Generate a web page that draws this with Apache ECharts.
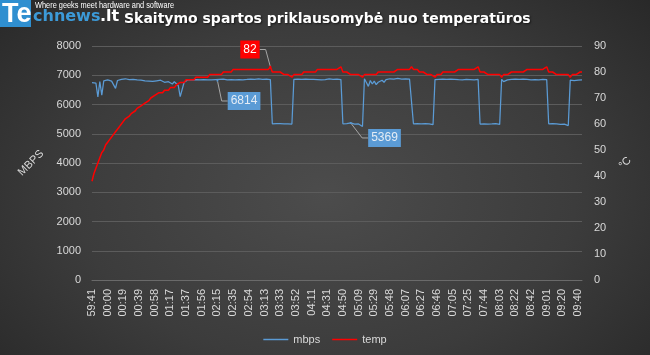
<!DOCTYPE html>
<html>
<head>
<meta charset="utf-8">
<script src="https://cdn.jsdelivr.net/npm/echarts@6/dist/echarts.min.js"></script>
<style>
html,body{margin:0;padding:0;width:650px;height:355px;overflow:hidden;
background:radial-gradient(ellipse 70% 85% at 50% 55%, #4c4c4c 0%, #3c3c3c 55%, #272727 100%);}
#c{width:650px;height:355px;}
</style>
</head>
<body>
<div id="c"></div>
<script>
// x-axis tick labels (one every pointsPerTick samples)
const tickLabels = ['59:41','00:00','00:19','00:39','00:58','01:17','01:37','01:56','02:15','02:35',
  '02:54','03:13','03:33','03:52','04:11','04:31','04:50','05:09','05:29','05:48',
  '06:07','06:27','06:46','07:05','07:25','07:44','08:03','08:22','08:42','09:01',
  '09:20','09:40'];
const pointsPerTick = 8;

// read speed, MB/s
const mbps = [
  6745,6800,6730,6260,6780,6320,6810,6760,6840,6790,
  6800,6830,6550,6820,6790,6860,6810,6880,6830,6850,
  6820,6860,6800,6840,6790,6830,6870,6810,6840,6800,
  6830,6790,6850,6810,6770,6830,6800,6760,6820,6780,
  6740,6700,6780,6720,6650,6270,6300,6760,6820,
  6850,6870,6840,6860,6850,6880,6840,6860,6850,6870,6845,
  6860,6840,6870,6850,6814,6860,6845,6870,6850,6840,
  6865,6850,6875,6840,6860,6850,6870,6845,6860,6855,
  6840,6870,6850,6860,6845,6875,6850,6860,6840,6865,6855,6850,
  5340,5330,5350,5335,5345,5330,5340,5350,5335,5345,5330,
  6860,6840,6870,6850,6860,6845,6870,6850,6860,6840,6855,6870,6850,6860,6845,6865,6850,6860,6875,6845,6860,6850,6870,6855,6850,
  5340,5330,5345,5335,5369,5340,5330,5345,5335,5330,5250,
  6880,6750,6620,6820,6700,6800,6680,6760,6720,6830,6760,6850,
  6860,6880,6850,6870,6845,6890,6860,6870,6850,6880,6860,6870,6855,
  5340,5330,5345,5335,5340,5330,5350,5335,5340,5330,5310,
  6850,6870,6860,6845,6870,6855,6860,6840,6870,6850,6860,6875,6850,6860,6845,6870,6855,6860,6850,6870,6845,6860,6855,
  5330,5340,5335,5345,5330,5340,5335,5330,5345,5335,5320,
  6860,6780,6720,6840,6800,6860,6840,6870,6850,6860,6845,6870,6850,6860,6855,6840,6870,6850,6860,6845,6870,6855,6860,6850,
  5340,5330,5345,5335,5340,5330,5320,5335,5330,5310,5280,
  6830,6850,6820,6840,6830,6850,6840
];

// temperature, °C
const temp = [
  38,41,43,45,47,49,50,52,53,54,
  55,56,57,58,59,60,61,62,62,63,
  64,64,65,66,66,67,67,68,68,69,
  70,70,71,71,72,72,72,73,73,73,
  74,74,74,75,75,76,76,76,77,77,
  77,77,77,78,78,78,78,78,78,78,
  79,79,79,79,79,79,79,80,80,80,
  80,80,81,81,81,81,81,81,81,81,
  81,81,81,81,81,81,81,81,81,81,
  81,82,80,80,80,80,80,80,79,79,
  79,79,78,79,79,79,79,79,80,80,
  80,80,80,80,80,81,81,81,81,81,
  81,81,81,81,81,81,81,82,80,80,
  80,80,79,79,79,79,79,79,78,79,
  79,79,79,79,79,79,80,80,80,80,
  80,80,80,80,80,80,81,81,81,81,
  81,81,81,82,81,81,81,80,80,80,
  80,79,79,79,79,78,79,79,79,80,
  80,80,80,80,80,80,80,81,81,81,
  81,81,81,81,81,81,81,82,80,80,
  80,80,79,79,79,79,79,79,79,78,
  79,79,79,79,80,80,80,80,80,80,
  80,80,81,81,81,81,81,81,81,81,
  81,81,82,80,80,80,80,79,79,79,
  79,79,79,79,78,79,79,79,79,80,
  80
];

// indices of the points that carry a data label
const mbpsLabelIdx = [64, 132];
const tempLabelIdx = [91];

// label box offsets (layout only)
const labelOffsets = {
  mbps: {64: {dx: 26.6, dy: 20.3}, 132: {dx: 33.8, dy: 15}},
  temp: {91: {dx: -20.4, dy: -17.3}}
};

const categories = mbps.map((v, i) => (i % pointsPerTick === 0 ? (tickLabels[i / pointsPerTick] || '') : ''));

const FONT = 'Liberation Sans';
const TXT = '#d9d9d9';

function withLabels(arr, idxs) {
  return arr.map((v, i) => idxs.indexOf(i) >= 0
    ? {value: v, symbol: 'circle', symbolSize: 2, label: {show: true}}
    : v);
}

const chart = echarts.init(document.getElementById('c'), null, {renderer: 'canvas'});
const option = {
  backgroundColor: 'transparent',
  animation: false,
  title: {
    text: 'Skaitymo spartos priklausomybė nuo temperatūros',
    left: 124, top: 12, padding: 0,
    textStyle: {color: '#ffffff', fontSize: 14, fontWeight: 'bold', fontFamily: 'DejaVu Sans',
      textShadowColor: 'rgba(0,0,0,0.6)', textShadowBlur: 2, textShadowOffsetX: 1, textShadowOffsetY: 1}
  },
  graphic: [
    {type: 'rect', shape: {x: 0, y: 0, width: 31, height: 27}, style: {fill: '#2f8fd0'}},
    {type: 'text', x: 2, y: 1, style: {text: 'Te', fill: '#ffffff', font: 'bold 27px "Liberation Sans"'}},
    {type: 'text', x: 33, y: 9, style: {text: 'chnews', fill: '#3c9ad8', font: 'bold 16px "DejaVu Sans"'}},
    {type: 'text', x: 100, y: 9, style: {text: '.lt', fill: '#ffffff', font: 'bold 16px "DejaVu Sans"'}},
    {type: 'text', x: 35, y: 1, scaleX: 0.82, style: {text: 'Where geeks meet hardware and software', fill: '#ffffff', font: '9px "Liberation Sans"'}}
  ],
  legend: {
    data: ['mbps', 'temp'], left: 'center', top: 329, icon: 'rect',
    itemWidth: 25, itemHeight: 1.5, itemGap: 12,
    textStyle: {color: TXT, fontSize: 11, fontFamily: FONT}
  },
  grid: {left: 92, right: 68, top: 46, bottom: 75, containLabel: false},
  xAxis: {
    type: 'category', data: categories, boundaryGap: false,
    axisLine: {show: true, lineStyle: {color: '#6a6a6a', width: 1}},
    axisTick: {show: false},
    axisLabel: {interval: pointsPerTick - 1, rotate: 90, margin: 9, color: TXT, fontSize: 11, fontFamily: FONT},
    splitLine: {show: false}
  },
  yAxis: [
    {
      type: 'value', min: 0, max: 8000, interval: 1000, position: 'left',
      name: 'MBPS', nameLocation: 'middle', nameGap: 58, nameRotate: 45,
      nameTextStyle: {color: TXT, fontSize: 11, fontFamily: FONT, align: 'center', verticalAlign: 'middle'},
      axisLine: {show: false}, axisTick: {show: false},
      axisLabel: {margin: 11, color: TXT, fontSize: 11, fontFamily: FONT, formatter: v => String(v)},
      splitLine: {show: true, lineStyle: {color: '#5c5c5c', width: 1}}
    },
    {
      type: 'value', min: 0, max: 90, interval: 10, position: 'right',
      name: '°C', nameLocation: 'middle', nameGap: 40, nameRotate: 45,
      nameTextStyle: {color: TXT, fontSize: 11, fontFamily: FONT, align: 'center', verticalAlign: 'middle'},
      axisLine: {show: false}, axisTick: {show: false},
      axisLabel: {margin: 12, color: TXT, fontSize: 11, fontFamily: FONT, formatter: v => String(v)},
      splitLine: {show: false}
    }
  ],
  series: [
    {
      name: 'mbps', type: 'line', yAxisIndex: 0,
      data: withLabels(mbps, mbpsLabelIdx),
      symbol: 'none', showSymbol: true, showAllSymbol: true,
      lineStyle: {color: '#5b9bd5', width: 1.25}, itemStyle: {color: '#5b9bd5'},
      label: {show: false, position: 'inside', backgroundColor: '#5b9bd5', color: '#e4ecf5',
        fontSize: 12, fontFamily: FONT, padding: [3, 3, 3, 3]},
      labelLine: {show: true, length2: 6, lineStyle: {color: '#a6a6a6', width: 1}},
      labelLayout: p => labelOffsets.mbps[p.dataIndex] || {},
      emphasis: {disabled: true}
    },
    {
      name: 'temp', type: 'line', yAxisIndex: 1,
      data: withLabels(temp, tempLabelIdx),
      symbol: 'none', showSymbol: true, showAllSymbol: true,
      lineStyle: {color: '#ff0000', width: 1.5}, itemStyle: {color: '#ff0000'},
      label: {show: false, position: 'inside', backgroundColor: '#ff0000', color: '#ffffff',
        fontSize: 12, fontFamily: FONT, padding: [3, 3, 3, 3]},
      labelLine: {show: true, length2: 6, lineStyle: {color: '#a6a6a6', width: 1}},
      labelLayout: p => labelOffsets.temp[p.dataIndex] || {},
      emphasis: {disabled: true}
    }
  ]
};
chart.setOption(option);
</script>
</body>
</html>
